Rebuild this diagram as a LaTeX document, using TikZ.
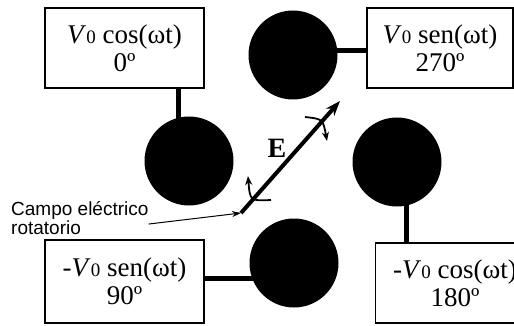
\documentclass[tikz,border=0pt]{standalone}
\usepackage{fontspec}
\setmainfont{Liberation Serif}
\newfontfamily\labelsans{Liberation Sans}
\usepackage{tikz}
\usetikzlibrary{arrows.meta, positioning, backgrounds, calc}
\newcommand{\vzero}{\textit{V}{\fontsize{19}{19}\selectfont 0}}

\begin{document}
\begin{tikzpicture}[x=1pt, y=-1pt,
    vbox/.style={draw, line width=1.2pt, minimum width=159pt, minimum height=80pt,
                 inner sep=0pt, align=center, font=\fontsize{27}{28}\selectfont},
    elec/.style={circle, fill=black, minimum size=89pt, inner sep=0pt},
    lead/.style={line width=5pt},
    evec/.style={line width=4pt, -{Stealth[length=15pt, width=11pt]}},
    spin/.style={line width=1.8pt, -{Stealth[length=9pt, width=7pt]}}]
    \useasboundingbox (0,0) rectangle (514,326);
    \clip (0,0) rectangle (514,326);

    % Electrodes
    \node[elec] (e1) at (189,161) {};
    \node[elec] (e2) at (293,55)  {};
    \node[elec] (e3) at (397,162) {};
    \node[elec] (e4) at (294,263) {};

    % Voltage boxes
    \node[vbox] (v1) at (124.5,48)  {\vzero\ cos(ωt)\\0º};
    \node[vbox, minimum width=146pt] (v2) at (440,48) {\vzero\ sen(ωt)\\270º};
    \node[vbox, minimum height=83pt] (v3) at (124.5,281.5) {-\vzero\ sen(ωt)\\90º};
    \node[vbox] (v4) at (455,283) {-\vzero\ cos(ωt)\\180º};

    % Leads behind the electrodes
    \begin{scope}[on background layer]
        \draw[lead] ([xshift=-11pt]e1.center) -- ([xshift=-11pt]e1.center |- v1.south);
        \draw[lead] ([yshift=4pt]e2.center)   -- ([yshift=4pt]e2.center -| v2.west);
        \draw[lead] ([xshift=9pt]e3.center)   -- ([xshift=9pt]e3.center |- v4.north);
        \draw[lead] ([yshift=-15pt]e4.center) -- ([yshift=-15pt]e4.center -| v3.east);
    \end{scope}

    % Rotating field vector
    \coordinate (etail) at (241,213);
    \coordinate (ehead) at (340,101);
    \draw[evec] (etail) -- (ehead);
    \node[font=\fontsize{28}{28}\selectfont\bfseries] (elbl) at (277,148) {E};
    \draw[spin] (305,117) .. controls (323,119) .. (327,141);
    \draw[spin] (271,200) .. controls (250,201) .. (248,176);

    % Label
    \node[anchor=north west, align=left, inner sep=0pt,
          font=\labelsans\fontsize{19}{19.5}\selectfont] (cer) at (11,201)
          {Campo eléctrico\\rotatorio};
    \draw[line width=1pt, -{Stealth[length=9pt, width=6pt]}]
        ([yshift=-6pt]cer.east) -- (etail);
\end{tikzpicture}
\end{document}
